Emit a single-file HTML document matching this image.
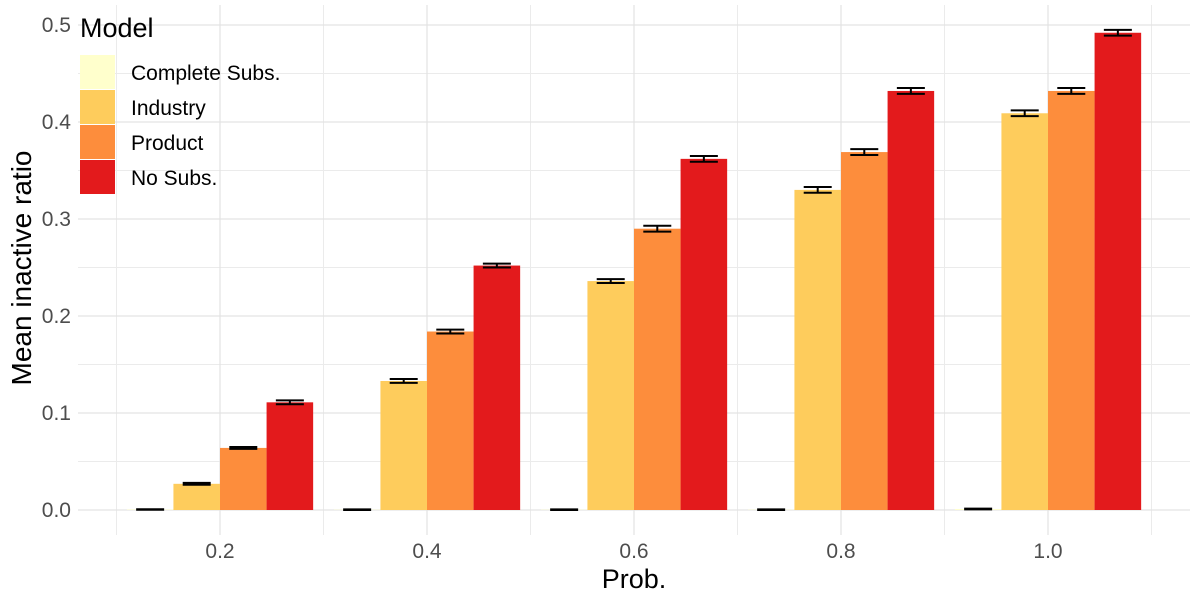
<!DOCTYPE html>
<html><head><meta charset="utf-8"><style>
body{margin:0;background:#fff;font-family:"Liberation Sans",Arial,sans-serif}
</style></head><body>
<svg id="c" width="1200" height="600" xmlns="http://www.w3.org/2000/svg"></svg>
<script>
const categories=["0.2","0.4","0.6","0.8","1.0"];
const seriesNames=["Complete Subs.","Industry","Product","No Subs."];
const colors=["#FFFFCC","#FECC5C","#FD8D3C","#E31A1C"];
const completeVals=[0.0005,0.0003,0.0003,0.0003,0.001];
const industryVals=[0.027,0.133,0.236,0.330,0.409];
const productVals=[0.064,0.184,0.290,0.369,0.432];
const noSubsVals=[0.111,0.252,0.362,0.432,0.492];
const errVals=[[0.0003,0.0003,0.0003,0.0003,0.0004],[0.001,0.002,0.002,0.003,0.003],[0.001,0.002,0.003,0.003,0.003],[0.002,0.002,0.003,0.003,0.003]];
const yTicks=[0,0.1,0.2,0.3,0.4,0.5];
const yTickLabels=["0.0","0.1","0.2","0.3","0.4","0.5"];
const series=[completeVals,industryVals,productVals,noSubsVals];
const NS="http://www.w3.org/2000/svg",svg=document.getElementById('c');
const y=v=>510-v*970;
const x=i=>220+i*207;
const step=207,bw=step*0.9/4;
function el(t,a,txt){const e=document.createElementNS(NS,t);for(const k in a)e.setAttribute(k,a[k]);if(txt!=null)e.textContent=txt;svg.appendChild(e);return e;}
for(let v=0.05;v<0.55;v+=0.1){const g=el('line',{x1:78,x2:1190,y1:y(v),y2:y(v),stroke:'#ebebeb','stroke-width':1});}
for(let i=0;i<=categories.length;i++){const g=el('line',{x1:x(i)-step/2,x2:x(i)-step/2,y1:5,y2:535,stroke:'#ebebeb','stroke-width':1});}
yTicks.forEach((v,i)=>{const g=el('line',{x1:78,x2:1190,y1:y(v),y2:y(v),stroke:'#e3e3e3','stroke-width':1.2});
const t=el('text',{x:71,y:y(v)+7,'text-anchor':'end','font-size':21,fill:'#4d4d4d'},yTickLabels[i]);});
categories.forEach((c,i)=>{const g=el('line',{x1:x(i),x2:x(i),y1:5,y2:535,stroke:'#e3e3e3','stroke-width':1.2});
const t=el('text',{x:x(i),y:558,'text-anchor':'middle','font-size':21,fill:'#4d4d4d'},c);});
series.forEach((s,k)=>{s.forEach((v,i)=>{const bx=x(i)-2*bw+k*bw;
const r=el('rect',{x:bx,y:y(v),width:bw,height:y(0)-y(v),fill:colors[k]});
const e=errVals[k][i],cx=bx+bw/2,hw=14;
const p=el('path',{d:`M${cx-hw},${y(v+e)}H${cx+hw}M${cx},${y(v+e)}V${y(v-e)}M${cx-hw},${y(v-e)}H${cx+hw}`,stroke:'#000','stroke-width':2,fill:'none'});});});
let t=el('text',{x:634,y:588,'text-anchor':'middle','font-size':27,fill:'#000'},'Prob.');
t=el('text',{x:0,y:0,'text-anchor':'middle','font-size':28,fill:'#000',transform:'translate(31,268) rotate(-90)'},'Mean inactive ratio');
t=el('text',{x:80,y:37,'font-size':27,fill:'#000'},'Model');
seriesNames.forEach((n,k)=>{const ly=55+k*35;
const r=el('rect',{x:80,y:ly,width:35,height:34,fill:colors[k]});
const tt=el('text',{x:131,y:ly+25,'font-size':21,fill:'#000'},n);});
</script>
</body></html>
